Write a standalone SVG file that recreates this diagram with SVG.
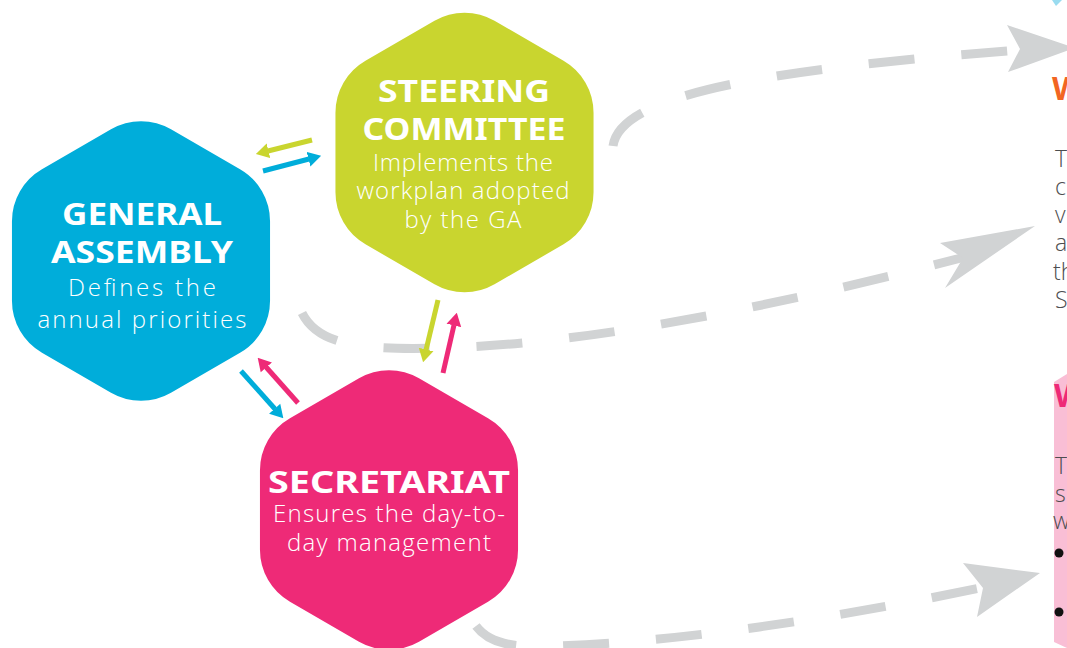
<svg xmlns="http://www.w3.org/2000/svg" width="1067" height="648" viewBox="0 0 1067 648">
<defs>
<style>
.title{font-family:"Noto Sans","DejaVu Sans",sans-serif;font-weight:700;font-size:30px;fill:#fff;text-anchor:middle}
.body{font-family:"Open Sans","Noto Sans","DejaVu Sans",sans-serif;font-weight:300;font-size:24px;fill:#fff;text-anchor:middle}
.dash{fill:none;stroke:#D1D3D4;stroke-width:9;stroke-dasharray:46 47}
.head{fill:#D1D3D4}
.side{font-family:"Open Sans","Noto Sans","DejaVu Sans",sans-serif;font-weight:300;font-size:23px;fill:#4D4D4F}
.sideh{font-family:"Noto Sans","DejaVu Sans",sans-serif;font-weight:700;font-size:32px}
.arr{fill:none;stroke-width:5}
</style>
<path id="hex" d="M30,-131.68 L99.04,-91.82 A60,60 0 0 1 129.04,-39.86 L129.04,39.86 A60,60 0 0 1 99.04,91.82 L30,131.68 A60,60 0 0 1 -30,131.68 L-99.04,91.82 A60,60 0 0 1 -129.04,39.86 L-129.04,-39.86 A60,60 0 0 1 -99.04,-91.82 L-30,-131.68 A60,60 0 0 1 30,-131.68 Z"/>
<marker id="mGreen" viewBox="0 -8 13 16" refX="0.5" refY="0" markerWidth="13" markerHeight="16" markerUnits="userSpaceOnUse" orient="auto"><path d="M0,-7.5 L13,0 L0,7.5 Z" fill="#C9D52F"/></marker>
<marker id="mBlue" viewBox="0 -8 13 16" refX="0.5" refY="0" markerWidth="13" markerHeight="16" markerUnits="userSpaceOnUse" orient="auto"><path d="M0,-7.5 L13,0 L0,7.5 Z" fill="#00ADDA"/></marker>
<marker id="mPink" viewBox="0 -8 13 16" refX="0.5" refY="0" markerWidth="13" markerHeight="16" markerUnits="userSpaceOnUse" orient="auto"><path d="M0,-7.5 L13,0 L0,7.5 Z" fill="#EE2A77"/></marker>
</defs>
<rect width="1067" height="648" fill="#fff"/>

<g id="general-assembly">
<use href="#hex" transform="translate(141,261)" fill="#00ADDA"/>
<text class="title" x="142" y="225" textLength="160" lengthAdjust="spacingAndGlyphs">GENERAL</text>
<text class="title" x="142" y="263" textLength="182" lengthAdjust="spacingAndGlyphs">ASSEMBLY</text>
<text class="body" x="142" y="296" font-size="26" textLength="148">Defines the</text>
<text class="body" x="142" y="328" font-size="26" textLength="209">annual priorities</text>
</g>

<g id="steering-committee">
<use href="#hex" transform="translate(464.5,152.5)" fill="#C9D52F"/>
<text class="title" x="464" y="102" textLength="172" lengthAdjust="spacingAndGlyphs">STEERING</text>
<text class="title" x="464" y="140" textLength="203" lengthAdjust="spacingAndGlyphs">COMMITTEE</text>
<text class="body" x="463" y="171" textLength="180">Implements the</text>
<text class="body" x="463" y="199" textLength="213">workplan adopted</text>
<text class="body" x="463" y="228" textLength="117">by the GA</text>
</g>

<g id="secretariat">
<use href="#hex" transform="translate(389,510)" fill="#EE2A77"/>
<text class="title" x="389" y="493" textLength="242" lengthAdjust="spacingAndGlyphs">SECRETARIAT</text>
<text class="body" x="389" y="522" textLength="232">Ensures the day-to-</text>
<text class="body" x="389" y="551" textLength="204">day management</text>
</g>

<g id="right-panel">
<polygon points="1052,0 1062,0 1056,6" fill="#9ADCF0"/>
<text class="sideh" x="1052" y="100" fill="#F26522">W</text>
<text class="side" x="1055" y="167">T</text>
<text class="side" x="1055" y="195">c</text>
<text class="side" x="1055" y="223">v</text>
<text class="side" x="1055" y="251">a</text>
<text class="side" x="1053" y="280">th</text>
<text class="side" x="1055" y="308">S</text>
<polygon points="1054,382 1067,374 1067,648 1054,642" fill="#F9BED5"/>
<text class="sideh" x="1054" y="407" fill="#EE2A77">W</text>
<text class="side" x="1055" y="474">T</text>
<text class="side" x="1055" y="502">s</text>
<text class="side" x="1053" y="529">w</text>
<circle cx="1059" cy="553" r="4.5" fill="#111"/>
<circle cx="1059" cy="612" r="4.5" fill="#111"/>
</g>

<g id="connectors">
<path class="dash" d="M613,146 C620,95 760,70 1020,50"/>
<polygon class="head" points="1007,25 1075,48 1008,72 1020,49"/>
<path class="dash" d="M302,313 C318,345 360,350 440,348 C600,344 800,300 965,257"/>
<polygon class="head" points="940,243 1035,226 945,288 963,258"/>
<path class="dash" d="M476,626 C490,645 515,648 560,646 C700,640 850,615 985,587"/>
<polygon class="head" points="963,563 1040,573 977,617 983,588"/>

<line class="arr" x1="312" y1="140" x2="268" y2="151" stroke="#C9D52F" marker-end="url(#mGreen)"/>
<line class="arr" x1="263" y1="171" x2="309" y2="159" stroke="#00ADDA" marker-end="url(#mBlue)"/>
<line class="arr" x1="241" y1="371" x2="275" y2="409" stroke="#00ADDA" marker-end="url(#mBlue)"/>
<line class="arr" x1="298" y1="403" x2="266" y2="367" stroke="#EE2A77" marker-end="url(#mPink)"/>
<line class="arr" x1="438" y1="300" x2="426" y2="350" stroke="#C9D52F" marker-end="url(#mGreen)"/>
<line class="arr" x1="443" y1="373" x2="454" y2="325" stroke="#EE2A77" marker-end="url(#mPink)"/>
</g>
</svg>
